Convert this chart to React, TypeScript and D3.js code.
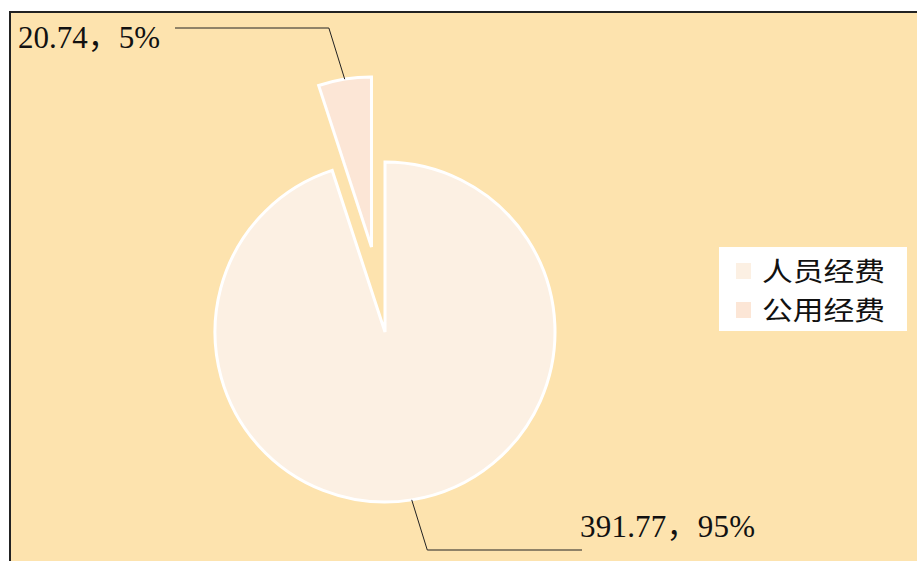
import * as d3 from "d3"

const categories = ["人员经费", "公用经费"]
const values = [391.77, 20.74]
const sliceColors = ["#FCF0E3", "#FCE6D6"]

const W = 917
const H = 561
const CENTER = { x: 385, y: 332 }
const RADIUS = 170
const EXPLODE = [0, 86]
// where each data label sits (text position + leader elbow row)
const LABEL_POS = [
  { textX: 580, textY: 537, lineY: 550, lineEndX: 582, textW: 175 },
  { textX: 18, textY: 48, lineY: 28, lineEndX: 175, textW: 142 },
]

const numFont = "'Liberation Serif', 'Noto Sans CJK SC', serif"
const cjkFont = "'Noto Sans CJK SC', sans-serif"

export default function App() {
  const total = d3.sum(values)
  const pie = d3.pie<number>().sort(null).value((d) => d)
  const arcs = pie(values)
  const arc = d3.arc<d3.PieArcDatum<number>>().innerRadius(0).outerRadius(RADIUS)

  const slices = arcs.map((a, i) => {
    const mid = (a.startAngle + a.endAngle) / 2
    const ox = Math.sin(mid) * EXPLODE[i]
    const oy = -Math.cos(mid) * EXPLODE[i]
    const sx = CENTER.x + ox + Math.sin(mid) * RADIUS
    const sy = CENTER.y + oy - Math.cos(mid) * RADIUS
    const lp = LABEL_POS[i]
    const ex = sx + Math.sign(Math.sin(mid)) * Math.abs(lp.lineY - sy) * 0.31
    const pct = Math.round((values[i] / total) * 100)
    return (
      <g key={i}>
        <path
          d={arc(a) || ""}
          transform={`translate(${CENTER.x + ox},${CENTER.y + oy})`}
          fill={sliceColors[i]}
          stroke="#fff"
          strokeWidth={3}
          strokeLinejoin="miter"
        />
        <polyline
          points={`${sx},${sy} ${ex},${lp.lineY} ${lp.lineEndX},${lp.lineY}`}
          fill="none"
          stroke="#222"
          strokeWidth={1}
        />
        <text
          x={lp.textX}
          y={lp.textY}
          fontFamily={numFont}
          fontSize={31}
          fill="#111"
          textLength={lp.textW}
          lengthAdjust="spacing"
        >
          {`${values[i]}，${pct}%`}
        </text>
      </g>
    )
  })

  const legend = categories.map((c, i) => (
    <g key={c} transform={`translate(736,${263 + i * 39})`}>
      <rect x={0} y={0} width={15} height={16} fill={sliceColors[i]} />
      <text
        x={26}
        y={18}
        fontFamily={cjkFont}
        fontSize={26.5}
        fill="#111"
        textLength={123}
        lengthAdjust="spacingAndGlyphs"
      >
        {c}
      </text>
    </g>
  ))

  return (
    <div style={{ position: "absolute", left: 0, top: 0 }}>
      <svg width={W} height={H} viewBox={`0 0 ${W} ${H}`}>
        <rect x={0} y={0} width={W} height={H} fill="#fff" />
        <rect x={10} y={12} width={W + 10} height={H + 10} fill="#FDE3AE" stroke="#222" strokeWidth={2} />
        {slices}
        <rect x={719} y={247} width={188} height={84} fill="#fff" />
        {legend}
      </svg>
    </div>
  )
}
